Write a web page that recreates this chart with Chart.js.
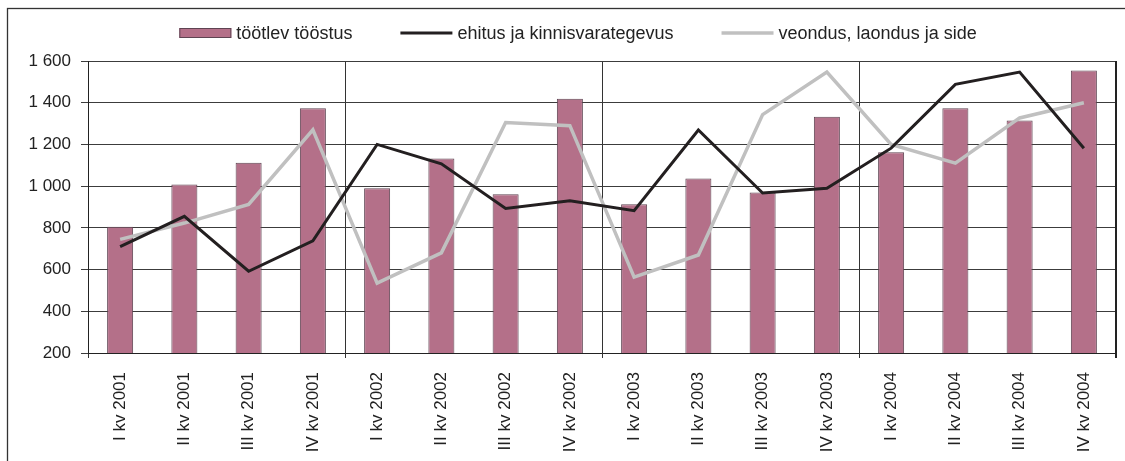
<!DOCTYPE html>
<html>
<head>
<meta charset="utf-8">
<script src="https://cdn.jsdelivr.net/npm/chart.js@4.4.1/dist/chart.umd.min.js"></script>
<style>
    html, body { margin: 0; padding: 0; background: #fff; }
    #wrap { position: relative; width: 1125px; height: 461px; }
</style>
</head>
<body>
<div id="wrap"><canvas id="chart"></canvas></div>
<script>
// kvartalid
const categories = [
    'I kv 2001', 'II kv 2001', 'III kv 2001', 'IV kv 2001',
    'I kv 2002', 'II kv 2002', 'III kv 2002', 'IV kv 2002',
    'I kv 2003', 'II kv 2003', 'III kv 2003', 'IV kv 2003',
    'I kv 2004', 'II kv 2004', 'III kv 2004', 'IV kv 2004'
];
const tootlevTööstus = [805, 1008, 1112, 1373, 990, 1133, 961, 1419, 913, 1037, 970, 1333, 1162, 1373, 1315, 1555];
const ehitus = [710, 855, 592, 738, 1200, 1107, 893, 930, 882, 1269, 967, 990, 1182, 1488, 1547, 1182];
const veondus = [745, 823, 912, 1270, 535, 680, 1305, 1290, 564, 670, 1343, 1547, 1200, 1110, 1327, 1400];
const yMin = 200, yMax = 1600, yStep = 200;

const fontFamily = '"Liberation Sans", Arial, sans-serif';
const textColor = '#222';

// tuhandete eraldaja tühikuga: 1 600
const formatTick = v => String(v).replace(/\B(?=(\d{3})+(?!\d))/g, ' ');

// välimine raam ja joonise parem serv
const framePlugin = {
    id: 'outerFrame',
    beforeDraw(chart) {
        const c = chart.ctx;
        c.save();
        c.strokeStyle = '#333';
        c.lineWidth = 1.3;
        c.strokeRect(7.5, 8.5, 1300, 600);
        c.restore();
    },
    afterDatasetsDraw(chart) {
        const c = chart.ctx;
        const a = chart.chartArea;
        c.save();
        c.fillStyle = '#222';
        c.fillRect(Math.round(a.right) - 1, Math.round(a.top), 2, Math.round(a.bottom - a.top) + 5);
        c.restore();
    }
};

// legend üleval, joonistatud käsitsi et vahed klapiks
const legendPlugin = {
    id: 'topLegend',
    afterDraw(chart) {
        const c = chart.ctx;
        const boxW = 52, gap = 5, itemGap = 48, y = 33;
        c.save();
        c.font = '18px ' + fontFamily;
        const items = chart.data.datasets.map(ds => ({ ds, w: boxW + gap + c.measureText(ds.label).width }));
        const total = items.reduce((s, it) => s + it.w, 0) + itemGap * (items.length - 1);
        let x = 578 - total / 2;
        items.forEach(it => {
            const ds = it.ds;
            if (ds.type === 'bar') {
                c.fillStyle = ds.backgroundColor;
                c.fillRect(x, y - 5, boxW, 10);
                c.strokeStyle = ds.borderColor;
                c.lineWidth = 1;
                c.strokeRect(x + 0.5, y - 4.5, boxW - 1, 9);
            } else {
                c.strokeStyle = ds.borderColor;
                c.lineWidth = ds.borderWidth;
                c.beginPath();
                c.moveTo(x, y);
                c.lineTo(x + boxW, y);
                c.stroke();
            }
            c.fillStyle = textColor;
            c.textBaseline = 'middle';
            c.textAlign = 'left';
            c.fillText(ds.label, x + boxW + gap, y + 1);
            x += it.w + itemGap;
        });
        c.restore();
    }
};

// aastate vahejooned iga 4 kvartali järel
const isYearLine = c => c.index !== undefined && c.index % 4 === 0;

const ctx = document.getElementById('chart');
new Chart(ctx, {
    type: 'bar',
    data: {
        labels: categories,
        datasets: [{
            type: 'bar',
            label: 'töötlev tööstus',
            data: tootlevTööstus,
            backgroundColor: '#b47089',
            borderColor: '#5e4452',
            borderWidth: 1,
            barPercentage: 0.405,
            categoryPercentage: 1.0,
            order: 1
        },
        {
            type: 'line',
            label: 'ehitus ja kinnisvarategevus',
            data: ehitus,
            borderColor: '#231f20',
            backgroundColor: '#231f20',
            borderWidth: 3,
            pointRadius: 0,
            tension: 0,
            order: 0
        },
        {
            type: 'line',
            label: 'veondus, laondus ja side',
            data: veondus,
            borderColor: '#c0c0c0',
            backgroundColor: '#c0c0c0',
            borderWidth: 3.5,
            pointRadius: 0,
            tension: 0,
            order: 0
        }]
    },
    options: {
        responsive: true,
        maintainAspectRatio: false,
        animation: false,
        layout: { padding: { top: 61, right: 9, left: 0, bottom: 0 } },
        plugins: {
            legend: { display: false },
            tooltip: { enabled: false }
        },
        scales: {
            x: {
                afterFit: s => { s.height = 108; },
                grid: {
                    offset: true,
                    color: c => isYearLine(c) ? '#333' : 'rgba(0,0,0,0)',
                    tickLength: 5
                },
                border: { color: '#222', width: 1 },
                ticks: {
                    autoSkip: false,
                    minRotation: 90,
                    maxRotation: 90,
                    padding: 14,
                    color: textColor,
                    font: { family: fontFamily, size: 17 }
                }
            },
            y: {
                min: yMin,
                max: yMax,
                afterFit: s => { s.width = 88; },
                grid: { color: '#3c3c3c', tickLength: 7 },
                border: { color: '#222', width: 1 },
                ticks: {
                    stepSize: yStep,
                    padding: 10,
                    color: textColor,
                    font: { family: fontFamily, size: 17 },
                    callback: v => formatTick(v)
                }
            }
        }
    },
    plugins: [framePlugin, legendPlugin]
});
</script>
</body>
</html>
